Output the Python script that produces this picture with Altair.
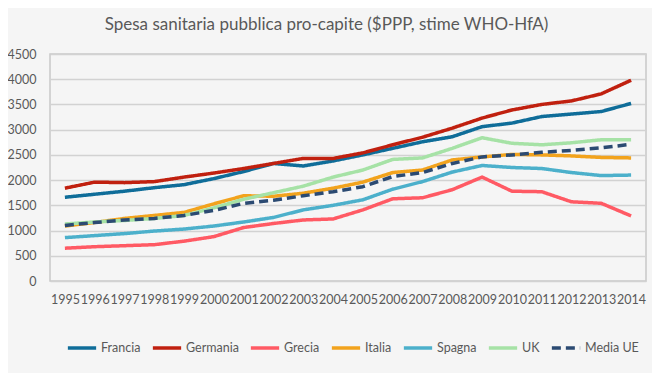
import altair as alt
import pandas as pd

years = [str(y) for y in range(1995, 2015)]

francia = [1660, 1720, 1780, 1850, 1910, 2030, 2170, 2330, 2280, 2380, 2500, 2630, 2760, 2860, 3060, 3130, 3260, 3310, 3360, 3520]
germania = [1840, 1960, 1950, 1970, 2060, 2140, 2230, 2330, 2430, 2430, 2540, 2700, 2850, 3030, 3230, 3390, 3500, 3570, 3710, 3980]
grecia = [650, 680, 700, 720, 790, 880, 1060, 1140, 1210, 1230, 1410, 1630, 1650, 1810, 2060, 1780, 1770, 1570, 1540, 1290]
italia = [1090, 1160, 1240, 1300, 1360, 1530, 1690, 1680, 1740, 1840, 1960, 2150, 2200, 2400, 2460, 2510, 2500, 2480, 2450, 2440]
spagna = [860, 900, 940, 990, 1030, 1090, 1170, 1260, 1410, 1500, 1610, 1820, 1970, 2160, 2290, 2250, 2230, 2150, 2090, 2100]
uk = [1130, 1170, 1200, 1240, 1300, 1450, 1620, 1750, 1880, 2060, 2200, 2410, 2440, 2630, 2840, 2730, 2700, 2740, 2800, 2800]
media_ue = [1100, 1160, 1210, 1240, 1300, 1400, 1540, 1600, 1690, 1770, 1870, 2070, 2150, 2330, 2460, 2500, 2550, 2590, 2640, 2710]

series_names = ["Francia", "Germania", "Grecia", "Italia", "Spagna", "UK", "Media UE"]
series_values = [francia, germania, grecia, italia, spagna, uk, media_ue]
colors = ["#0f6d99", "#c0200f", "#ff5a64", "#f2a31d", "#4cb0cb", "#a6e2a6", "#2b4a72"]
dashes = [[1, 0]] * 6 + [[9, 5]]
y_ticks = list(range(0, 4501, 500))

rows = []
for name, vals in zip(series_names, series_values):
    for yr, v in zip(years, vals):
        rows.append({"year": yr, "series": name, "value": v})
df = pd.DataFrame(rows)

FONT = "Lato"
TXT = "#595959"

legend = alt.Legend(
    title=None, orient="none", legendX=16, legendY=278, direction="horizontal",
    symbolType="stroke", symbolSize=800, symbolStrokeWidth=3.5,
    labelFontSize=12.5, labelFont=FONT, labelColor=TXT,
    columnPadding=4, labelOffset=3,
)

chart = alt.Chart(df).mark_line(strokeWidth=3.5, strokeJoin="round").encode(
    x=alt.X("year:O", scale=alt.Scale(padding=0.5),
            axis=alt.Axis(title=None, labelAngle=0, labelOverlap=False, ticks=False, domain=False,
                          grid=False, labelPadding=12, labelFontSize=12.5, labelColor=TXT, labelFont=FONT)),
    y=alt.Y("value:Q", scale=alt.Scale(domain=[0, 4500]),
            axis=alt.Axis(title=None, values=y_ticks, format="d", ticks=False, domain=False, gridColor="#d2d2d2",
                          gridWidth=1.5, labelPadding=14, labelFontSize=12.5, labelColor=TXT, labelFont=FONT)),
    color=alt.Color("series:N", scale=alt.Scale(domain=series_names, range=colors), legend=legend),
    strokeDash=alt.StrokeDash("series:N", scale=alt.Scale(domain=series_names, range=dashes), legend=legend),
).properties(
    width=596, height=227,
    autosize=alt.AutoSizeParams(type="none"),
    padding={"left": 42, "top": 46, "right": 6, "bottom": 92},
    title=alt.TitleParams("Spesa sanitaria pubblica pro-capite ($PPP, stime WHO-HfA)", fontSize=17, font=FONT,
                          fontWeight="normal", color=TXT, anchor="middle", frame="bounds", offset=14),
).configure(background="#f5f5f5").configure_view(stroke="#c8c8c8", strokeWidth=1.5)

chart.save("out.html", embed_options={"renderer": "svg", "actions": False})
